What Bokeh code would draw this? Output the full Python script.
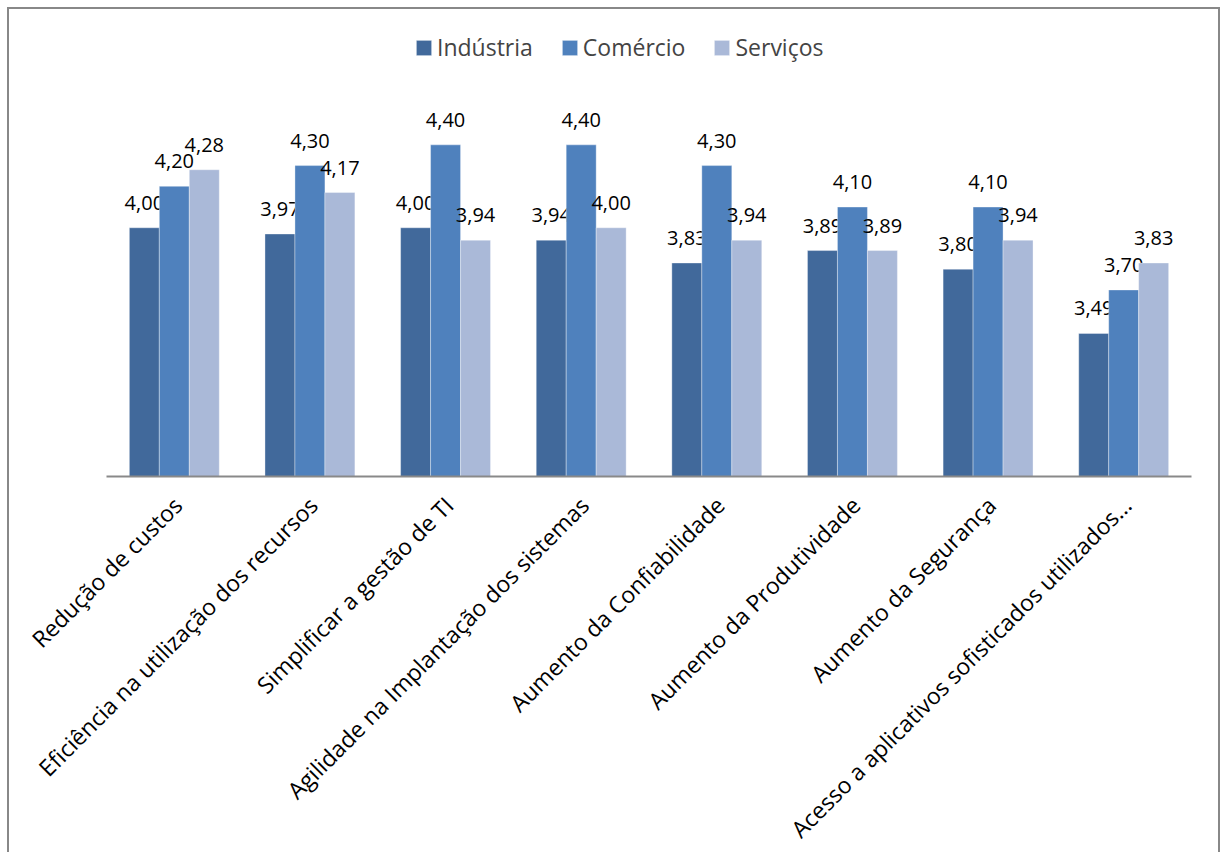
from bokeh.plotting import figure
from bokeh.models import (Range1d, ColumnDataSource, Legend, LegendItem,
                          InlineStyleSheet)
from bokeh.core.properties import value
from bokeh.transform import dodge
from bokeh.embed import file_html
from bokeh.resources import INLINE
import math

# --- data -------------------------------------------------------------
categories = [
    "Redução de custos",
    "Eficiência na utilização dos recursos",
    "Simplificar a gestão de TI",
    "Agilidade na Implantação dos sistemas",
    "Aumento da Confiabilidade",
    "Aumento da Produtividade",
    "Aumento da Segurança",
    "Acesso a aplicativos sofisticados utilizados...",
]
series_names = ["Indústria", "Comércio", "Serviços"]
industria = [4.00, 3.97, 4.00, 3.94, 3.83, 3.89, 3.80, 3.49]
comercio = [4.20, 4.30, 4.40, 4.40, 4.30, 4.10, 4.10, 3.70]
servicos = [4.28, 4.17, 3.94, 4.00, 3.94, 3.89, 3.94, 3.83]
y_min, y_max = 2.8, 5.0

colors = ["#41699B", "#4F81BD", "#AAB9D8"]
FONT = "Open Sans"

# --- layout (pixels) --------------------------------------------------
W, H = 1221, 852
frame_l, frame_r, frame_t = 10, 1211, 20     # drawing frame on the canvas
plot_l, plot_r, plot_b = 106, 1191, 476      # where the category axis sits

n = len(categories)
px_x = (plot_r - plot_l) / n                  # pixels per category
px_y = (plot_b - frame_t) / (y_max - y_min)   # pixels per value unit
x_lo = -(plot_l - frame_l) / px_x
x_hi = n + (frame_r - plot_r) / px_x
y_lo = y_min - (H - plot_b) / px_y


def fmt(v):
    return f"{v:.2f}".replace(".", ",")


source = ColumnDataSource(data=dict(
    pos=[i + 0.5 for i in range(n)],
    cat=categories,
    base=[y_min] * n,
    industria=industria,
    comercio=comercio,
    servicos=servicos,
    lab_industria=[fmt(v) for v in industria],
    lab_comercio=[fmt(v) for v in comercio],
    lab_servicos=[fmt(v) for v in servicos],
))

p = figure(
    width=W, height=H,
    x_range=Range1d(x_lo, x_hi),
    y_range=Range1d(y_lo, y_max),
    output_backend="svg", toolbar_location=None,
    min_border_left=frame_l, min_border_right=W - frame_r,
    min_border_top=frame_t, min_border_bottom=0,
    x_axis_location=None, y_axis_location=None,
)
p.background_fill_color = "white"
p.border_fill_color = "white"
p.outline_line_color = None
p.xgrid.visible = False
p.ygrid.visible = False

bar_w = 0.221
offsets = [-bar_w, 0.0, bar_w]
fields = ["industria", "comercio", "servicos"]

renderers = []
for field, off, col in zip(fields, offsets, colors):
    r = p.vbar(x=dodge("pos", off), top=field, bottom=y_min,
               width=bar_w, source=source, fill_color=col,
               line_color="white", line_alpha=0.35, line_width=1)
    renderers.append(r)
    p.text(x=dodge("pos", off), y=field, text="lab_" + field,
           source=source, text_align="center", text_baseline="alphabetic",
           y_offset=-25, text_font=value(FONT), text_font_size="20px",
           text_color="black")

# category axis line
p.segment(x0=0, y0=y_min, x1=n, y1=y_min, line_color="#898989", line_width=2)

# slanted category names under the axis
p.text(x="pos", y="base", text="cat", source=source,
       angle=math.pi / 4, text_align="right", text_baseline="top",
       x_offset=-8, y_offset=13,
       text_font=value(FONT), text_font_size="23px", text_color="black")

# legend across the top
legend = Legend(
    items=[LegendItem(label=s, renderers=[r]) for s, r in zip(series_names, renderers)],
    orientation="horizontal",
    location=(404, 789),
    glyph_width=19, glyph_height=19,
    label_standoff=4, spacing=27,
    padding=0, margin=0,
    border_line_color=None, background_fill_alpha=0,
    label_text_font=FONT, label_text_font_size="23px",
)
p.add_layout(legend, "center")

# grey frame around the chart area (open at the bottom edge of the window)
p.stylesheets = [InlineStyleSheet(css="""
:host { position: relative; }
:host::after {
  content: "";
  position: absolute;
  left: 7px; top: 7px;
  width: 1213px; height: 845px;
  box-sizing: border-box;
  border: 2px solid #888888;
  border-bottom: none;
  pointer-events: none;
}
""")]

open("out.html", "w").write(file_html(p, INLINE))
